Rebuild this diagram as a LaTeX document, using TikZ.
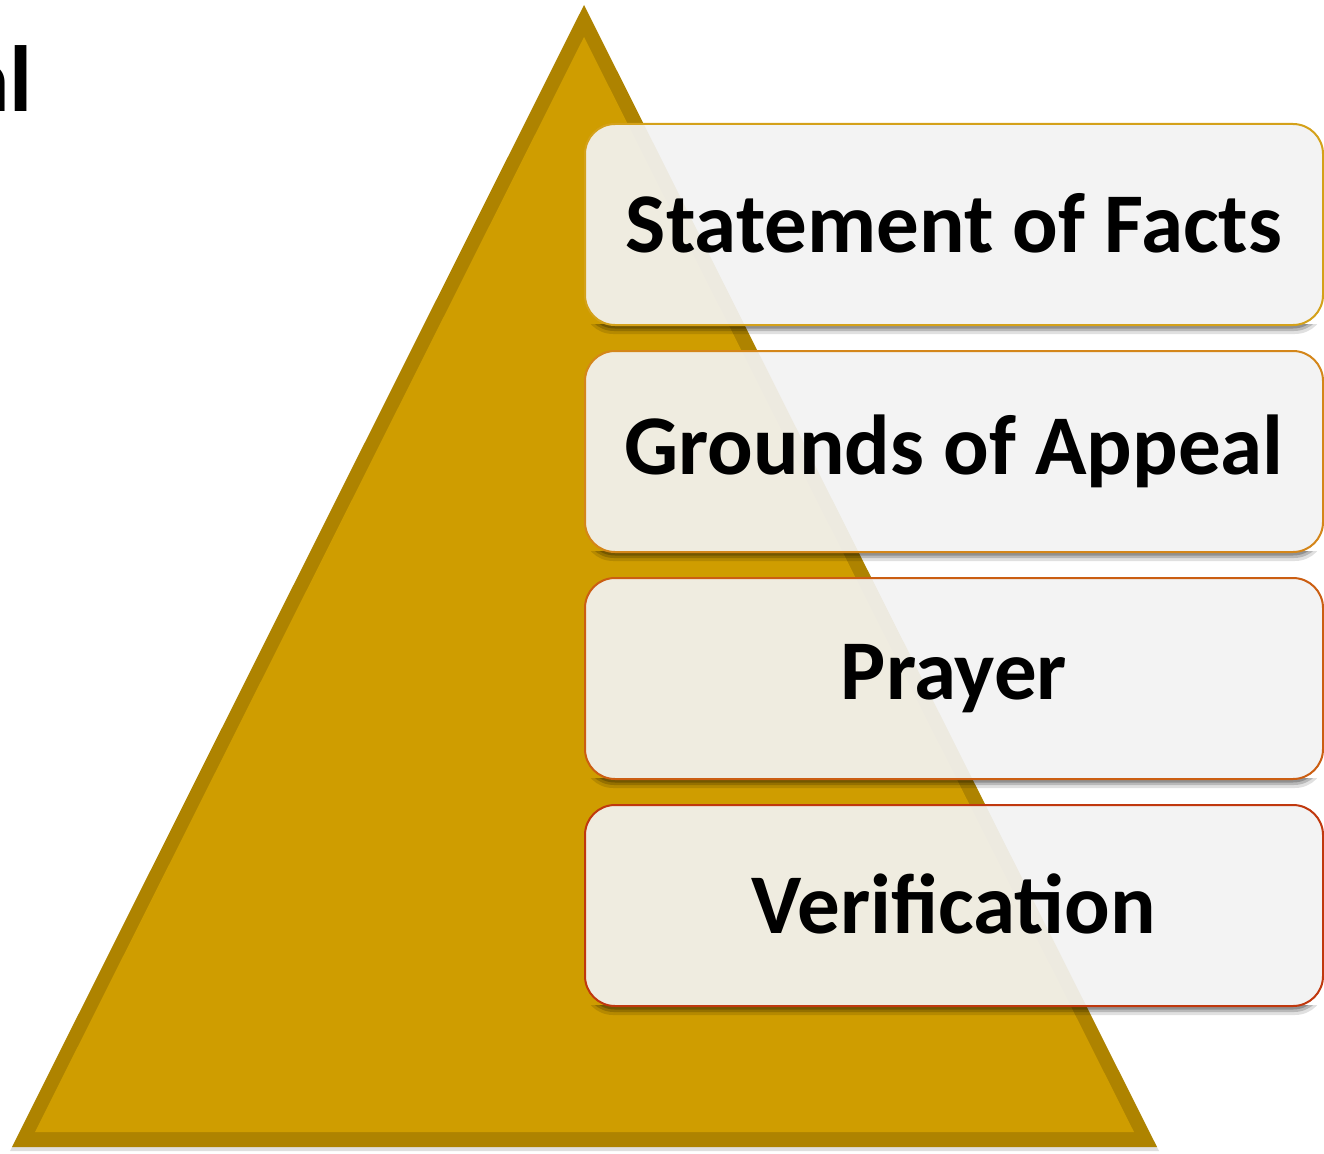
\documentclass[tikz,border=0pt]{standalone}
\usepackage{fontspec}
\setmainfont{Carlito}
\usetikzlibrary{calc}
\definecolor{goldin}{HTML}{CF9D00}
\definecolor{goldout}{HTML}{AE8300}
\definecolor{boxfill}{HTML}{F2F2F2}
\definecolor{bc1}{HTML}{D4A11A}
\definecolor{bc2}{HTML}{D4861A}
\definecolor{bc3}{HTML}{CB5E12}
\definecolor{bc4}{HTML}{C0380E}
\tikzset{
  itembox/.style={rectangle, rounded corners=30pt, minimum width=738pt, minimum height=201pt,
    fill=boxfill, fill opacity=0.93, text opacity=1, line width=2pt,
    font=\fontsize{85}{92}\selectfont\bfseries, text=black, inner sep=0pt},
  boxshadow/.style={fill=black, rounded corners=30pt},
  title/.style={font=\fontsize{94}{100}\selectfont\bfseries, text=black, inner sep=0pt, anchor=base east}
}
\newcommand{\shadowunder}[2]{% top, bottom
  \begin{scope}
    \clip (570,#2-1) rectangle (1330,#2+16);
    \fill[boxshadow, opacity=0.12] (583,#1+3) rectangle (1325,#2+9);
    \fill[boxshadow, opacity=0.18] (584,#1+3) rectangle (1324,#2+6);
    \fill[boxshadow, opacity=0.22] (585,#1+2) rectangle (1323,#2+3.5);
  \end{scope}}
\newcommand{\up}[1]{\raisebox{4pt}{#1}}
\begin{document}
\begin{tikzpicture}[x=1pt,y=-1pt]
\useasboundingbox (0,0) rectangle (1324,1153);
\clip (0,0) rectangle (1324,1153);
% title fragment
\node[title] (ttl) at (33,112) {al};
% pyramid
\fill[black!25, opacity=0.5] (584,8) -- (10,1151) -- (1159,1151) -- cycle;
\fill[goldout] (584,5) -- (12,1147) -- (1157,1147) -- cycle;
\fill[goldin] (584,37) -- (35,1132) -- (1134,1132) -- cycle;
% shadows
\shadowunder{124}{325}
\shadowunder{351}{552}
\shadowunder{578}{779}
\shadowunder{805}{1006}
% boxes
\node[itembox, draw=bc1] (b1) at (954,224.5) {\up{Statement of Facts}};
\node[itembox, draw=bc2] (b2) at (954,451.5) {\up{Grounds of Appeal}};
\node[itembox, draw=bc3] (b3) at (954,678.5) {\up{Prayer}};
\node[itembox, draw=bc4] (b4) at (954,905.5) {\up{Verification}};
\end{tikzpicture}
\end{document}
